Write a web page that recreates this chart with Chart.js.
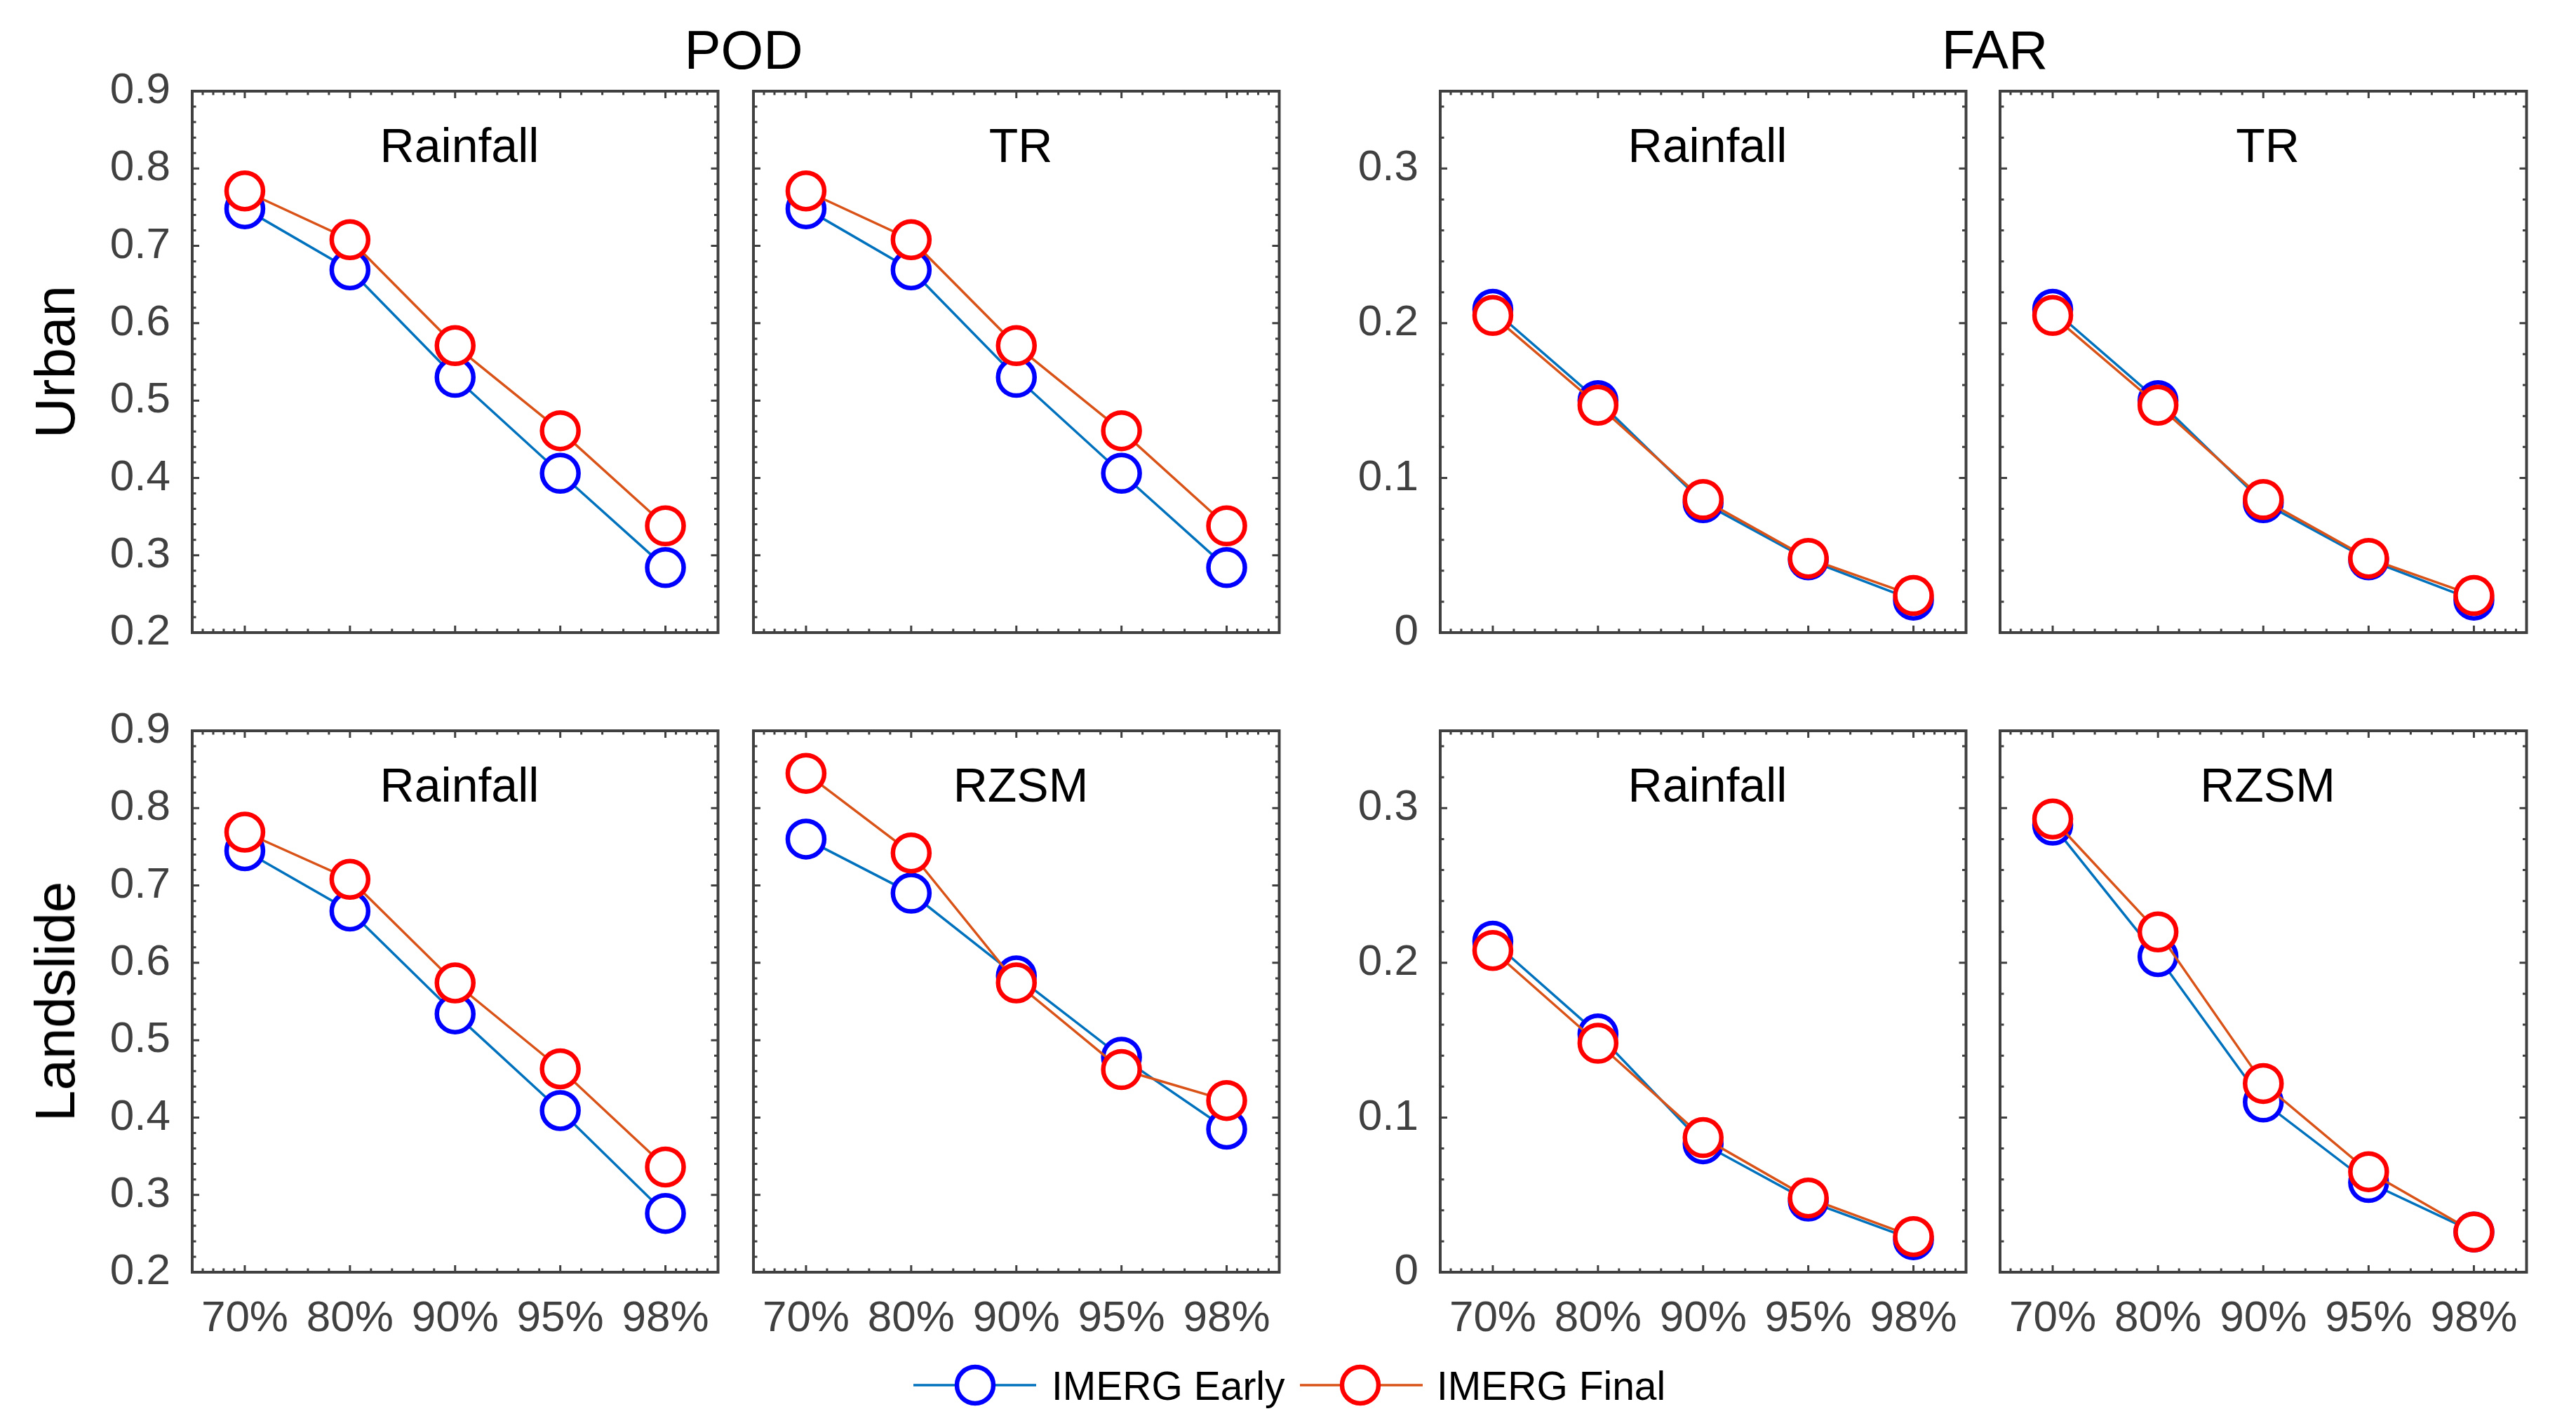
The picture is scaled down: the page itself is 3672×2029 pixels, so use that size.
<!DOCTYPE html>
<html><head><meta charset="utf-8">
<script src="https://cdn.jsdelivr.net/npm/chart.js@4/dist/chart.umd.min.js"></script>
<style>
html,body{margin:0;padding:0;background:#fff;}
body{width:3672px;height:2029px;position:relative;overflow:hidden;font-family:"Liberation Sans",Arial,Helvetica,sans-serif;}
canvas{position:absolute;}
.t{position:absolute;white-space:nowrap;line-height:1;color:#000;font-family:"Liberation Sans",Arial,Helvetica,sans-serif;}
</style></head><body>
<script>
// ---------- data ----------
const xLabels = ['70%', '80%', '90%', '95%', '98%'];
const xMajorTicks = [1, 2, 3, 4, 5];
const xMinorTicks = [0.6, 0.7, 0.8, 0.9, 1.2, 1.4, 1.6, 1.8, 2.2, 2.4, 2.6, 2.8, 3.2, 3.4, 3.6, 3.8, 4.2, 4.4, 4.6, 4.8, 5.1, 5.2, 5.3, 5.4];
const podTicks = [0.2, 0.3, 0.4, 0.5, 0.6, 0.7, 0.8, 0.9];
const podTickLabels = ['0.2', '0.3', '0.4', '0.5', '0.6', '0.7', '0.8', '0.9'];
const farTicks = [0, 0.1, 0.2, 0.3];
const farTickLabels = ['0', '0.1', '0.2', '0.3'];
const seriesNames = ['IMERG Early', 'IMERG Final'];

const urbanPodRainfallEarly = [0.748, 0.669, 0.530, 0.406, 0.284];
const urbanPodRainfallFinal = [0.771, 0.708, 0.571, 0.461, 0.338];
const urbanPodTrEarly = [0.748, 0.669, 0.530, 0.406, 0.284];
const urbanPodTrFinal = [0.771, 0.708, 0.571, 0.461, 0.338];
const urbanFarRainfallEarly = [0.209, 0.150, 0.084, 0.047, 0.021];
const urbanFarRainfallFinal = [0.205, 0.147, 0.086, 0.048, 0.024];
const urbanFarTrEarly = [0.209, 0.150, 0.084, 0.047, 0.021];
const urbanFarTrFinal = [0.205, 0.147, 0.086, 0.048, 0.024];
const landPodRainfallEarly = [0.745, 0.667, 0.534, 0.409, 0.276];
const landPodRainfallFinal = [0.769, 0.708, 0.574, 0.463, 0.336];
const landPodRzsmEarly = [0.760, 0.690, 0.583, 0.478, 0.385];
const landPodRzsmFinal = [0.845, 0.742, 0.574, 0.462, 0.422];
const landFarRainfallEarly = [0.214, 0.154, 0.083, 0.046, 0.021];
const landFarRainfallFinal = [0.208, 0.148, 0.087, 0.048, 0.023];
const landFarRzsmEarly = [0.289, 0.204, 0.110, 0.058, 0.026];
const landFarRzsmFinal = [0.293, 0.220, 0.122, 0.065, 0.026];

// ---------- style / layout ----------
const FONT = '"Liberation Sans", Arial, Helvetica, sans-serif';
const AXIS = '#404040';
const EARLY_LINE = '#0072BD', EARLY_MARK = '#0000FF';
const FINAL_LINE = '#D95319', FINAL_MARK = '#FF0000';
const colL = [274, 1074, 2053, 2851];
const colR = [1036, 1836, 2815, 3614];
const rowT = [130, 1042];
const rowB = [902, 1814];
const PADL = 200, PADT = 100, PADR = 20, PADB = 130;

const panels = [
  {row:0, col:0, title:'Rainfall', metric:'POD', early:urbanPodRainfallEarly, final:urbanPodRainfallFinal},
  {row:0, col:1, title:'TR', metric:'POD', early:urbanPodTrEarly, final:urbanPodTrFinal},
  {row:0, col:2, title:'Rainfall', metric:'FAR', early:urbanFarRainfallEarly, final:urbanFarRainfallFinal},
  {row:0, col:3, title:'TR', metric:'FAR', early:urbanFarTrEarly, final:urbanFarTrFinal},
  {row:1, col:0, title:'Rainfall', metric:'POD', early:landPodRainfallEarly, final:landPodRainfallFinal},
  {row:1, col:1, title:'RZSM', metric:'POD', early:landPodRzsmEarly, final:landPodRzsmFinal},
  {row:1, col:2, title:'Rainfall', metric:'FAR', early:landFarRainfallEarly, final:landFarRainfallFinal},
  {row:1, col:3, title:'RZSM', metric:'FAR', early:landFarRzsmEarly, final:landFarRzsmFinal},
];

const boxPlugin = {
  id: 'matlabBox',
  afterDatasetsDraw(chart) {
    const {ctx, chartArea: a, scales: {x, y}} = chart;
    const o = chart.options.plugins.matlabBox;
    ctx.save();
    ctx.strokeStyle = AXIS;
    ctx.lineWidth = 3;
    ctx.lineCap = 'butt';
    ctx.beginPath();
    const vt = (v, len) => {
      const px = x.getPixelForValue(v);
      ctx.moveTo(px, a.bottom); ctx.lineTo(px, a.bottom - len);
      ctx.moveTo(px, a.top); ctx.lineTo(px, a.top + len);
    };
    const ht = (v, len) => {
      const py = y.getPixelForValue(v);
      ctx.moveTo(a.left, py); ctx.lineTo(a.left + len, py);
      ctx.moveTo(a.right, py); ctx.lineTo(a.right - len, py);
    };
    xMinorTicks.forEach(v => vt(v, 5.5));
    xMajorTicks.forEach(v => vt(v, 10));
    o.yMinor.forEach(v => ht(v, 5.5));
    o.yMajor.forEach(v => ht(v, 10));
    ctx.stroke();
    ctx.lineWidth = 4;
    ctx.strokeRect(a.left, a.top, a.right - a.left, a.bottom - a.top);
    ctx.restore();
  }
};

function minorList(lo100, hi100) {
  const out = [];
  for (let k = lo100; k <= hi100; k += 2) out.push(k / 100);
  return out;
}

function pts(vals) { return vals.map((v, i) => ({x: xMajorTicks[i], y: v})); }

function addH(str, x, baseline, size, align, color) {
  const d = document.createElement('div');
  d.className = 't'; d.textContent = str;
  d.style.fontSize = size + 'px';
  d.style.top = (baseline - 0.8465 * size) + 'px';
  d.style.left = x + 'px';
  if (color) d.style.color = color;
  if (align === 'center') d.style.transform = 'translateX(-50%)';
  document.body.appendChild(d);
}
function addV(str, baselineX, cy, size) {
  const d = document.createElement('div');
  d.className = 't'; d.textContent = str;
  d.style.fontSize = size + 'px';
  d.style.left = (baselineX - 0.3465 * size) + 'px';
  d.style.top = cy + 'px';
  d.style.transform = 'translate(-50%,-50%) rotate(-90deg)';
  document.body.appendChild(d);
}

panels.forEach(p => {
  const L = colL[p.col], R = colR[p.col], T = rowT[p.row], B = rowB[p.row];
  const cv = document.createElement('canvas');
  const w = R - L + PADL + PADR, h = B - T + PADT + PADB;
  cv.width = w; cv.height = h;
  cv.style.left = (L - PADL) + 'px';
  cv.style.top = (T - PADT) + 'px';
  cv.style.width = w + 'px'; cv.style.height = h + 'px';
  document.body.appendChild(cv);
  const isPod = p.metric === 'POD';
  const yT = isPod ? podTicks : farTicks;
  const yTL = isPod ? podTickLabels : farTickLabels;
  const yMin = isPod ? 0.2 : 0, yMax = isPod ? 0.9 : 0.35;
  const yMinor = isPod ? minorList(20, 90) : minorList(0, 34);
  const showY = p.col === 0 || p.col === 2;
  const showX = p.row === 1;
  const ds = (label, vals, lc, mc, order) => ({
    label, data: pts(vals), borderColor: lc, borderWidth: 3.5,
    pointRadius: 26, pointHoverRadius: 26, pointBorderWidth: 6.5, pointHoverBorderWidth: 6.5,
    pointBorderColor: mc, pointBackgroundColor: '#FFFFFF', pointStyle: 'circle',
    tension: 0, fill: false, order
  });
  new Chart(cv, {
    type: 'line',
    data: {datasets: [
      ds(seriesNames[0], p.early, EARLY_LINE, EARLY_MARK, 1),
      ds(seriesNames[1], p.final, FINAL_LINE, FINAL_MARK, 0)
    ]},
    options: {
      responsive: false, animation: false, devicePixelRatio: 1,
      events: [],
      layout: {padding: {top: PADT, right: PADR, left: 0, bottom: 0}},
      plugins: {legend: {display: false}, tooltip: {enabled: false}, title: {display: false},
        matlabBox: {yMajor: yT, yMinor}},
      scales: {
        x: {
          type: 'linear', min: 0.5, max: 5.5,
          afterBuildTicks: s => { s.ticks = xMajorTicks.map(v => ({value: v})); },
          afterFit: s => { s.height = PADB; },
          ticks: {display: showX, autoSkip: false, maxRotation: 0, minRotation: 0, padding: 30,
            color: AXIS, font: {family: FONT, size: 62},
            callback: (v) => xLabels[xMajorTicks.indexOf(v)]},
          grid: {display: false, drawTicks: false}, border: {display: false}
        },
        y: {
          type: 'linear', min: yMin, max: yMax,
          afterBuildTicks: s => { s.ticks = yT.map(v => ({value: v})); },
          afterFit: s => { s.width = PADL; },
          ticks: {display: showY, autoSkip: false, padding: 31,
            color: AXIS, font: {family: FONT, size: 62},
            callback: (v, i) => yTL[i]},
          grid: {display: false, drawTicks: false}, border: {display: false}
        }
      }
    },
    plugins: [boxPlugin]
  });
  addH(p.title, (L + R) / 2, T + 101, 68, 'center');
});

// headers & row labels
addH('POD', (colL[0] + colR[1]) / 2 + 5, 98, 78, 'center');
addH('FAR', (colL[2] + colR[3]) / 2 + 10, 98, 78, 'center');
addV('Urban', 107, (rowT[0] + rowB[0]) / 2, 80);
addV('Landslide', 107, (rowT[1] + rowB[1]) / 2, 80);

// legend
(function(){
  const lx = 1250, ly = 1900;
  const cv = document.createElement('canvas');
  cv.width = 1200; cv.height = 150;
  cv.style.left = lx + 'px'; cv.style.top = ly + 'px';
  cv.style.width = '1200px'; cv.style.height = '150px';
  document.body.appendChild(cv);
  const ctx = cv.getContext('2d');
  const cy = 1975 - ly;
  const item = (x0, x1, cx, lc, mc) => {
    ctx.strokeStyle = lc; ctx.lineWidth = 3.5;
    ctx.beginPath(); ctx.moveTo(x0 - lx, cy); ctx.lineTo(x1 - lx, cy); ctx.stroke();
    ctx.beginPath(); ctx.arc(cx - lx, cy, 26, 0, Math.PI * 2);
    ctx.fillStyle = '#fff'; ctx.fill();
    ctx.strokeStyle = mc; ctx.lineWidth = 6.5; ctx.stroke();
  };
  item(1302, 1477, 1390, EARLY_LINE, EARLY_MARK);
  item(1853, 2028, 1939, FINAL_LINE, FINAL_MARK);
  addH(seriesNames[0], 1499, 1996, 57, 'left');
  addH(seriesNames[1], 2048, 1996, 57, 'left');
})();
</script>
</body></html>
